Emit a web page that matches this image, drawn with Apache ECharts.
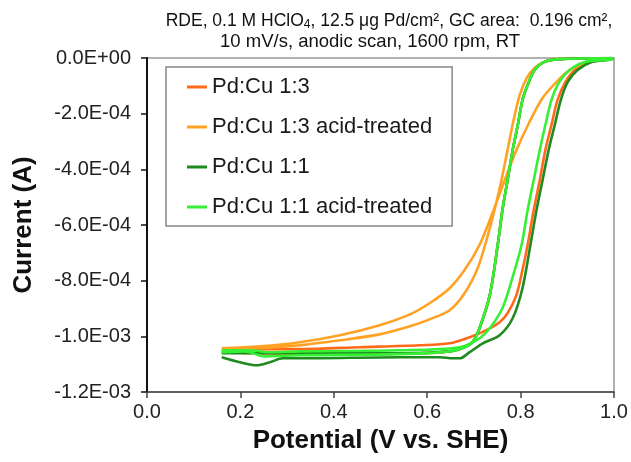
<!DOCTYPE html>
<html>
<head>
<meta charset="utf-8">
<script src="https://cdn.jsdelivr.net/npm/echarts@6/dist/echarts.min.js"></script>
<style>
  html, body { margin: 0; padding: 0; background: #fff; }
  #chart { width: 631px; height: 462px; }
</style>
</head>
<body>
<div id="chart"></div>
<script>
// potential (V vs SHE) and current (A), forward scan then return scan
const pdcu13V = [0.160,0.242,0.327,0.456,0.584,0.648,0.680,0.697,0.712,0.734,0.751,0.761,0.772,0.783,0.794,0.804,0.815,0.830,0.851,0.883,0.997,
  0.997,0.948,0.916,0.896,0.879,0.866,0.853,0.841,0.828,0.815,0.804,0.791,0.772,0.755,0.727,0.691,0.648,0.584,0.456,0.327,0.220,0.160];
const pdcu13I = [-10.57e-4,-10.61e-4,-10.64e-4,-10.64e-4,-10.61e-4,-10.54e-4,-10.36e-4,-10.21e-4,-9.71e-4,-8.52e-4,-6.72e-4,-5.47e-4,-4.39e-4,-3.31e-4,-2.41e-4,-1.51e-4,-0.97e-4,-0.43e-4,-0.14e-4,-0.04e-4,0,
  -0.04e-4,-0.14e-4,-0.43e-4,-0.86e-4,-1.51e-4,-2.41e-4,-3.31e-4,-4.39e-4,-5.47e-4,-6.72e-4,-7.62e-4,-8.52e-4,-9.17e-4,-9.49e-4,-9.78e-4,-10.03e-4,-10.25e-4,-10.32e-4,-10.39e-4,-10.46e-4,-10.46e-4,-10.50e-4];

const pdcu13AtV = [0.160,0.242,0.327,0.413,0.498,0.563,0.605,0.648,0.680,0.708,0.727,0.744,0.759,0.772,0.785,0.798,0.813,0.830,0.851,0.877,0.997,
  0.997,0.984,0.941,0.905,0.877,0.847,0.819,0.791,0.766,0.738,0.712,0.680,0.648,0.605,0.563,0.498,0.413,0.327,0.242,0.160];
const pdcu13AtI = [-10.50e-4,-10.43e-4,-10.32e-4,-10.14e-4,-9.93e-4,-9.64e-4,-9.39e-4,-9.06e-4,-8.45e-4,-7.55e-4,-6.54e-4,-5.47e-4,-4.39e-4,-3.31e-4,-2.23e-4,-1.33e-4,-0.72e-4,-0.36e-4,-0.14e-4,-0.04e-4,0,
  0,-0.04e-4,-0.18e-4,-0.43e-4,-0.86e-4,-1.44e-4,-2.30e-4,-3.31e-4,-4.39e-4,-5.65e-4,-6.72e-4,-7.62e-4,-8.27e-4,-8.81e-4,-9.21e-4,-9.60e-4,-9.96e-4,-10.21e-4,-10.36e-4,-10.43e-4];

const pdcu11V = [0.160,0.327,0.541,0.648,0.680,0.697,0.712,0.734,0.751,0.761,0.772,0.783,0.794,0.804,0.815,0.830,0.851,0.883,0.997,
  0.997,0.952,0.922,0.901,0.886,0.873,0.860,0.847,0.834,0.821,0.804,0.783,0.755,0.719,0.691,0.670,0.655,0.627,0.541,0.327,0.291,0.263,0.235,0.199,0.160];
const pdcu11I = [-10.61e-4,-10.61e-4,-10.61e-4,-10.54e-4,-10.39e-4,-10.21e-4,-9.71e-4,-8.52e-4,-6.72e-4,-5.47e-4,-4.39e-4,-3.31e-4,-2.41e-4,-1.51e-4,-0.97e-4,-0.43e-4,-0.14e-4,-0.04e-4,0,
  -0.04e-4,-0.14e-4,-0.43e-4,-0.86e-4,-1.51e-4,-2.41e-4,-3.31e-4,-4.39e-4,-5.47e-4,-6.72e-4,-8.27e-4,-9.35e-4,-9.96e-4,-10.25e-4,-10.57e-4,-10.79e-4,-10.79e-4,-10.75e-4,-10.75e-4,-10.79e-4,-10.79e-4,-10.93e-4,-11.04e-4,-10.93e-4,-10.75e-4];

const pdcu11AtV = [0.160,0.210,0.252,0.327,0.541,0.648,0.680,0.697,0.712,0.734,0.751,0.761,0.772,0.783,0.794,0.804,0.815,0.830,0.851,0.883,0.997,
  0.997,0.937,0.905,0.883,0.866,0.853,0.841,0.828,0.815,0.802,0.781,0.761,0.734,0.712,0.670,0.541,0.327,0.263,0.220,0.160];
const pdcu11AtI = [-10.57e-4,-10.54e-4,-10.72e-4,-10.68e-4,-10.64e-4,-10.54e-4,-10.39e-4,-10.21e-4,-9.71e-4,-8.52e-4,-6.72e-4,-5.47e-4,-4.39e-4,-3.31e-4,-2.41e-4,-1.51e-4,-0.97e-4,-0.43e-4,-0.14e-4,-0.04e-4,0,
  -0.04e-4,-0.14e-4,-0.43e-4,-0.86e-4,-1.51e-4,-2.41e-4,-3.31e-4,-4.39e-4,-5.47e-4,-6.72e-4,-7.98e-4,-8.99e-4,-9.71e-4,-10.07e-4,-10.39e-4,-10.50e-4,-10.54e-4,-10.57e-4,-10.50e-4,-10.50e-4];

const seriesNames = ['Pd:Cu 1:3', 'Pd:Cu 1:3 acid-treated', 'Pd:Cu 1:1', 'Pd:Cu 1:1 acid-treated'];
const seriesColors = ['#ff6a1a', '#ffa224', '#1f8a1f', '#35f035'];

function pairs(v, c) {
  return v.map((x, i) => [x, c[i]]);
}

function sci(v) {
  if (Math.abs(v) < 1e-12) return '0.0E+00';
  const e = Math.floor(Math.log10(Math.abs(v)) + 1e-9);
  const m = v / Math.pow(10, e);
  return m.toFixed(1) + 'E' + (e < 0 ? '-' : '+') + String(Math.abs(e)).padStart(2, '0');
}

const curves = [pairs(pdcu13V, pdcu13I), pairs(pdcu13AtV, pdcu13AtI), pairs(pdcu11V, pdcu11I), pairs(pdcu11AtV, pdcu11AtI)];

const chart = echarts.init(document.getElementById('chart'));
chart.setOption({
  animation: false,
  textStyle: { fontFamily: 'Liberation Sans, Arial, sans-serif' },
  graphic: [
    {
      type: 'text', x: 389, y: 21, z: 10,
      style: {
        text: 'RDE, 0.1 M HClO{sub|4}, 12.5 μg Pd/cm², GC area:  0.196 cm²,',
        rich: { sub: { fontSize: 12, verticalAlign: 'bottom', padding: [8, 0, 0, 0] } },
        fontSize: 17.5, fill: '#111', align: 'center', verticalAlign: 'middle',
        fontFamily: 'Liberation Sans'
      }
    },
    {
      type: 'text', x: 370, y: 42, z: 10,
      style: {
        text: '10 mV/s, anodic scan, 1600 rpm, RT',
        fontSize: 18.5, fill: '#111', align: 'center', verticalAlign: 'middle',
        fontFamily: 'Liberation Sans'
      }
    }
  ],
  grid: { left: 147, top: 58, width: 467, height: 334, show: true, borderColor: '#999', borderWidth: 1.5, containLabel: false },
  legend: {
    orient: 'vertical', left: 166, top: 67,
    data: seriesNames,
    icon: 'rect',
    backgroundColor: '#fff', borderColor: '#888', borderWidth: 1.5,
    padding: [8, 20, 7, 21],
    itemGap: 16, itemWidth: 20, itemHeight: 3,
    textStyle: { fontSize: 22, color: '#1a1a1a', lineHeight: 24, fontFamily: 'Liberation Sans' }
  },
  xAxis: {
    type: 'value', min: 0, max: 1, interval: 0.2,
    name: 'Potential (V vs. SHE)', nameLocation: 'middle', nameGap: 36,
    nameTextStyle: { fontSize: 26, fontWeight: 'bold', color: '#111', fontFamily: 'Liberation Sans' },
    axisLine: { onZero: false, lineStyle: { color: '#444', width: 1.5 } },
    axisTick: { show: true, length: 6, inside: false, lineStyle: { color: '#444', width: 1.5 } },
    axisLabel: { fontSize: 20, color: '#222', margin: 10, formatter: (v) => v.toFixed(1) },
    splitLine: { show: false }
  },
  yAxis: {
    type: 'value', min: -1.2e-3, max: 0, interval: 2e-4,
    name: 'Current (A)', nameLocation: 'middle', nameGap: 110,
    nameTextStyle: { fontSize: 26, fontWeight: 'bold', color: '#111', fontFamily: 'Liberation Sans' },
    axisLine: { onZero: false, lineStyle: { color: '#111', width: 2 } },
    axisTick: { show: true, length: 6, inside: false, lineStyle: { color: '#111', width: 1.5 } },
    axisLabel: { fontSize: 20, color: '#222', margin: 16, formatter: sci },
    splitLine: { show: false }
  },
  series: curves.map((d, i) => ({
    name: seriesNames[i],
    type: 'line',
    data: d,
    showSymbol: false,
    symbol: 'none',
    smooth: 0.3,
    color: seriesColors[i],
    lineStyle: { width: 2.6, color: seriesColors[i] }
  }))
});
</script>
</body>
</html>
